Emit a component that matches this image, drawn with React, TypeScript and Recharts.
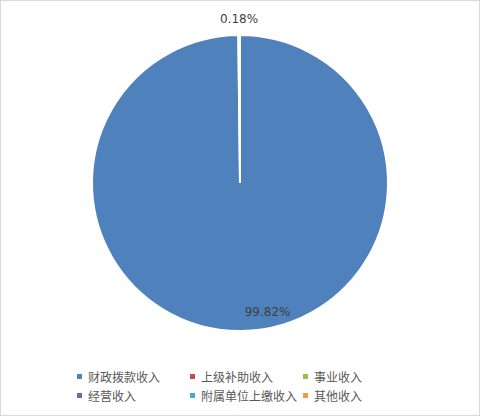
import React from 'react'
import { PieChart, Pie, Cell, Legend } from 'recharts'

const categories = ['财政拨款收入', '上级补助收入', '事业收入', '经营收入', '附属单位上缴收入', '其他收入']
const shares = [99.82, 0, 0, 0, 0, 0.18]
const colors = ['#4F81BD', '#C0504D', '#9BBB59', '#8064A2', '#4BACC6', '#F79646']

const data = categories.map((name, i) => ({ name, value: shares[i] }))

const RAD = Math.PI / 180

function renderLabel(props: any) {
  const { cx, cy, midAngle, outerRadius, value, index } = props
  if (!value) return null
  const big = index === 0
  const r = big ? outerRadius * 0.87 : outerRadius + 16
  const x = cx + r * Math.cos(-midAngle * RAD)
  const y = cy + r * Math.sin(-midAngle * RAD)
  return (
    <text
      x={big ? x + 4 : x}
      y={y}
      fill="#404040"
      fontSize={12}
      fontFamily="'DejaVu Sans', sans-serif"
      textAnchor={big ? 'start' : 'middle'}
      dominantBaseline="central"
    >
      {value.toFixed(2)}%
    </text>
  )
}

function LegendBox() {
  return (
    <div style={{ display: 'grid', gridTemplateColumns: '113px 113px 113px', rowGap: 3 }}>
      {categories.map((c, i) => (
        <div key={c} style={{ display: 'flex', alignItems: 'center', height: 16 }}>
          <span style={{ width: 5, height: 5, background: colors[i], marginRight: 6, display: 'inline-block' }} />
          <span style={{ fontSize: 12, color: '#595959', fontFamily: "'Noto Sans CJK SC', sans-serif", whiteSpace: 'nowrap' }}>{c}</span>
        </div>
      ))}
    </div>
  )
}

export default function App() {
  return (
    <div style={{ position: 'absolute', left: 0, top: 0, width: 478, height: 414, border: '1px solid #D9D9D9', background: '#fff' }}>
      <PieChart width={478} height={414} margin={{ top: 0, right: 0, bottom: 0, left: 0 }}>
        <Pie
          data={data}
          dataKey="value"
          nameKey="name"
          cx={239}
          cy={182}
          outerRadius={148}
          startAngle={90}
          endAngle={-270}
          stroke="#fff"
          strokeWidth={2}
          label={renderLabel}
          labelLine={false}
          isAnimationActive={false}
        >
          {data.map((d, i) => (
            <Cell key={d.name} fill={colors[i]} />
          ))}
        </Pie>
        <Legend content={() => <LegendBox />} wrapperStyle={{ left: 76, top: 367, width: 360 }} />
      </PieChart>
    </div>
  )
}
